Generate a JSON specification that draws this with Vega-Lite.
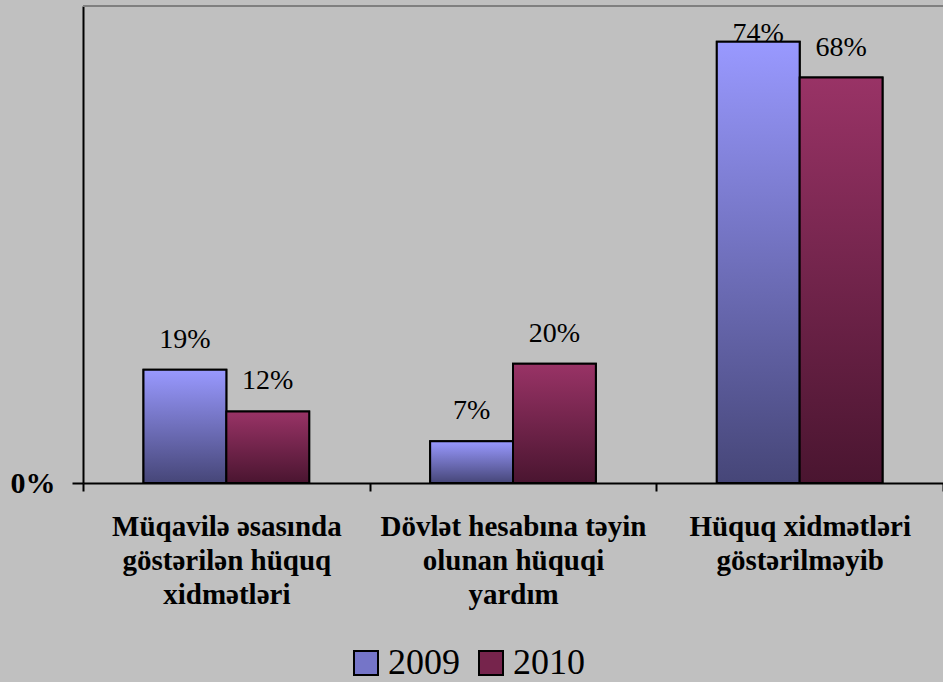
{
  "$schema": "https://vega.github.io/schema/vega-lite/v6.json",
  "width": 860,
  "height": 477,
  "autosize": {"type": "none"},
  "padding": {"left": 83, "top": 6, "right": 0, "bottom": 199},
  "background": "#C0C0C0",
  "config": {"view": {"stroke": null}, "font": "Liberation Serif"},
  "data": {
    "values": [
      {"category": "Müqavilə əsasında göstərilən hüquq xidmətləri", "year": "2009", "value": 0.19},
      {"category": "Müqavilə əsasında göstərilən hüquq xidmətləri", "year": "2010", "value": 0.12},
      {"category": "Dövlət hesabına təyin olunan hüquqi yardım", "year": "2009", "value": 0.07},
      {"category": "Dövlət hesabına təyin olunan hüquqi yardım", "year": "2010", "value": 0.20},
      {"category": "Hüquq xidmətləri göstərilməyib", "year": "2009", "value": 0.74},
      {"category": "Hüquq xidmətləri göstərilməyib", "year": "2010", "value": 0.68}
    ]
  },
  "encoding": {
    "x": {
      "field": "category",
      "type": "nominal",
      "sort": null,
      "scale": {"paddingInner": 0, "paddingOuter": 0},
      "axis": {
        "title": null,
        "labelAngle": 0,
        "domainColor": "black",
        "domainWidth": 2,
        "tickColor": "black",
        "tickWidth": 2,
        "tickSize": 8,
        "tickBand": "extent",
        "labelFont": "Liberation Serif",
        "labelFontSize": 29,
        "labelFontWeight": "bold",
        "labelColor": "black",
        "labelLineHeight": 34,
        "labelBaseline": "top",
        "labelPadding": 21,
        "labelLimit": 400,
        "labelOverlap": false,
        "labelExpr": "datum.value == 'Müqavilə əsasında göstərilən hüquq xidmətləri' ? ['Müqavilə əsasında', 'göstərilən hüquq', 'xidmətləri'] : datum.value == 'Dövlət hesabına təyin olunan hüquqi yardım' ? ['Dövlət hesabına təyin', 'olunan hüquqi', 'yardım'] : datum.value == 'Hüquq xidmətləri göstərilməyib' ? ['Hüquq xidmətləri', 'göstərilməyib'] : ''"
      }
    },
    "xOffset": {
      "field": "year",
      "type": "nominal",
      "scale": {"paddingInner": 0, "paddingOuter": 0.73}
    },
    "y": {
      "field": "value",
      "type": "quantitative",
      "scale": {"domain": [0, 0.8], "nice": false},
      "axis": {
        "title": null,
        "values": [0],
        "format": ".0%",
        "grid": false,
        "domainColor": "black",
        "domainWidth": 2,
        "tickColor": "black",
        "tickWidth": 2,
        "tickSize": 11,
        "labelFontSize": 30,
        "labelFontWeight": "bold",
        "labelColor": "black",
        "labelPadding": 17
      }
    }
  },
  "layer": [
    {
      "mark": {"type": "rule", "color": "#808080", "strokeWidth": 2},
      "encoding": {"y": {"datum": 0.8}, "x": null, "xOffset": null}
    },
    {
      "mark": {"type": "bar", "stroke": "black", "strokeWidth": 2},
      "encoding": {
        "fill": {
          "field": "year",
          "type": "nominal",
          "scale": {"domain": ["2009", "2010"], "range": ["#7575C8", "#76244C"]},
          "legend": {
            "title": null,
            "orient": "none",
            "direction": "horizontal",
            "legendX": 265,
            "legendY": 639,
            "symbolType": "square",
            "symbolSize": 576,
            "symbolStrokeColor": "black",
            "symbolStrokeWidth": 2,
            "symbolOpacity": 1,
            "labelFontSize": 36,
            "labelFont": "Liberation Serif",
            "labelColor": "black",
            "labelOffset": 4,
            "columnPadding": 13,
            "encode": {
              "symbols": {
                "update": {
                  "fill": [
                    {"test": "datum.value == '2009'", "value": {"gradient": "linear", "x1": 0, "y1": 0, "x2": 0, "y2": 1, "stops": [{"offset": 0, "color": "#9999FF"}, {"offset": 1, "color": "#464678"}]}},
                    {"value": {"gradient": "linear", "x1": 0, "y1": 0, "x2": 0, "y2": 1, "stops": [{"offset": 0, "color": "#993366"}, {"offset": 1, "color": "#4A1530"}]}}
                  ],
                  "stroke": {"value": "black"},
                  "strokeWidth": {"value": 2}
                }
              }
            }
          }
        }
      }
    },
    {
      "mark": {"type": "bar", "stroke": "black", "strokeWidth": 2},
      "encoding": {
        "fill": {
          "condition": {
            "test": "datum.year === '2009'",
            "value": {"gradient": "linear", "x1": 0, "y1": 0, "x2": 0, "y2": 1, "stops": [{"offset": 0, "color": "#9999FF"}, {"offset": 1, "color": "#464678"}]}
          },
          "value": {"gradient": "linear", "x1": 0, "y1": 0, "x2": 0, "y2": 1, "stops": [{"offset": 0, "color": "#993366"}, {"offset": 1, "color": "#4A1530"}]}
        }
      }
    },
    {
      "transform": [{"filter": "datum.value < 0.7"}],
      "mark": {"type": "text", "baseline": "alphabetic", "dy": -22, "fontSize": 28, "font": "Liberation Serif", "color": "black"},
      "encoding": {"text": {"field": "value", "type": "quantitative", "format": ".0%"}}
    },
    {
      "transform": [{"filter": "datum.value >= 0.7"}],
      "mark": {"type": "text", "baseline": "alphabetic", "dy": 0, "fontSize": 28, "font": "Liberation Serif", "color": "black"},
      "encoding": {"text": {"field": "value", "type": "quantitative", "format": ".0%"}}
    }
  ]
}
